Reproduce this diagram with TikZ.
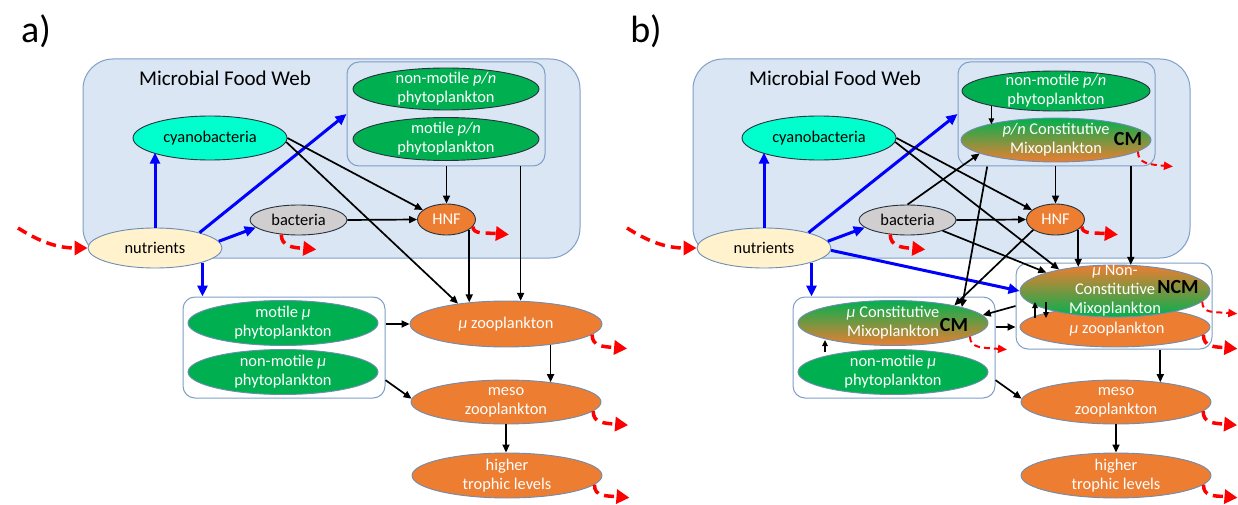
\documentclass[tikz,border=0pt]{standalone}
\usepackage{fontspec}
\setmainfont{Carlito}
\usetikzlibrary{shapes.geometric,arrows.meta,calc}
\definecolor{boxfill}{HTML}{DAE6F3}
\definecolor{boxdraw}{HTML}{7F9FC8}
\definecolor{grn}{HTML}{00B050}
\definecolor{org}{HTML}{ED7D31}
\definecolor{cyn}{HTML}{00FFCC}
\definecolor{nut}{HTML}{FFF2CC}
\definecolor{bac}{HTML}{D0CECE}
\definecolor{ellb}{HTML}{26323F}
\definecolor{ellbl}{HTML}{6F8DB0}
\definecolor{pblue}{HTML}{0000FF}
\definecolor{pred}{HTML}{FF0000}
\newcommand\EF{\fontsize{16.4}{19}\selectfont}
\newcommand\EN[8]{%
  \node[ell,#2,minimum width=#6pt,minimum height=#7pt] (#1) at (#4,#5) {};
  \node[etxt,text=#3] (#1-t) at (#1.center) {#8};}
\newcommand\hookarrow[5]{%
  \coordinate (#1) at ($(#2)+(#3)$);
  \draw[#4] (#2) .. controls +(0,#5) and +(-24,-2) .. (#1);}
\begin{document}
\begin{tikzpicture}[x=1pt,y=-1pt,
  bigbox/.style={draw=boxdraw,fill=boxfill,line width=1pt,rounded corners=30pt,inner sep=0pt},
  inbox/.style={draw=boxdraw,line width=1pt,rounded corners=12pt,inner sep=0pt},
  ell/.style={ellipse,draw=ellb,line width=0.9pt,inner sep=0pt},
  gfill/.style={fill=grn},
  ofill/.style={fill=org,draw=ellbl},
  cfill/.style={fill=cyn},
  nfill/.style={fill=nut,draw=ellbl},
  bfill/.style={fill=bac},
  gosh/.style={top color=grn,bottom color=org,draw=ellbl},
  ogsh/.style={top color=org,bottom color=grn,draw=ellbl},
  etxt/.style={align=center,font=\EF,inner sep=0pt},
  ttl/.style={font=\fontsize{21}{24}\selectfont,inner sep=0pt},
  plab/.style={font=\fontsize{38}{42}\selectfont,inner sep=0pt},
  cmlab/.style={font=\fontsize{20}{24}\selectfont\bfseries,inner sep=0pt,text=black},
  arrK/.style={-{Triangle[length=8pt,width=7pt]},line width=1.7pt,black},
  arrKs/.style={-{Triangle[length=6pt,width=5.5pt]},line width=1.4pt,black},
  arrB/.style={-{Triangle[length=11pt,width=10pt]},line width=3pt,pblue},
  arrR/.style={-{Triangle[length=13pt,width=14pt]},line width=3.5pt,pred,dash pattern=on 10pt off 6pt},
  arrRt/.style={-{Triangle[length=9pt,width=8pt]},line width=2pt,pred,dash pattern=on 6pt off 4pt}
]
\useasboundingbox (0,0) rectangle (1238,505);

%%%%%%%%%%%%%%%% panel a
\node[plab] (labA) at (36,31) {a)};
\node[bigbox,minimum width=497pt,minimum height=199pt] (mfwA) at (331.5,158.5) {};
\node[ttl] (ttlA) at (225,78) {Microbial Food Web};
\node[inbox,fill=boxfill,minimum width=198pt,minimum height=104pt] (pnboxA) at (446,114) {};
\node[inbox,fill=white,minimum width=202pt,minimum height=101pt] (phyboxA) at (284,347.5) {};

\EN{nmpnA}{gfill}{white}{446}{89}{186}{42}{non-motile \textit{p/n}\\phytoplankton}
\EN{mpnA}{gfill}{white}{446}{139}{186}{43}{motile \textit{p/n}\\phytoplankton}
\EN{cyanoA}{cfill}{black}{210}{138}{154}{44}{cyanobacteria}
\EN{nutA}{nfill}{black}{155}{248}{134}{40}{nutrients}
\EN{bacA}{bfill}{black}{298.5}{220}{97}{30}{bacteria}
\EN{hnfA}{ofill,draw=ellb}{white}{446.5}{219.5}{58}{31}{HNF}
\EN{zooA}{ofill}{white}{506}{324}{192}{46}{\textit{μ} zooplankton}
\EN{mmuA}{gfill,draw=ellbl}{white}{283}{323}{190}{45}{motile \textit{μ}\\phytoplankton}
\EN{nmmuA}{gfill,draw=ellbl}{white}{283}{372}{190}{45}{non-motile \textit{μ}\\phytoplankton}
\EN{mesoA}{ofill}{white}{506}{402}{190}{44}{meso\\zooplankton}
\EN{highA}{ofill}{white}{507}{475.5}{190}{45}{higher\\trophic levels}

% blue
\draw[arrB] (nutA.north) -- (nutA.north |- cyanoA.194);
\draw[arrB] (nutA.19) -- (pnboxA.west);
\draw[arrB] (nutA.6) -- (bacA.190);
\draw[arrB] (nutA.343) -- (nutA.343 |- phyboxA.north);
% black
\draw[arrK] (cyanoA.east) -- (hnfA.158);
\draw[arrK] (cyanoA.-3) -- (zooA.157);
\draw[arrK] (bacA.east) -- (hnfA.west);
\draw[arrK] (pnboxA.south -| hnfA.north) -- (hnfA.north);
\draw[arrK] (hnfA.336) -- (hnfA.336 |- zooA.150);
\coordinate (pnA-r) at ($(pnboxA.south)!0.75!(pnboxA.south east)$);
\draw[arrK] (pnA-r) -- (pnA-r |- zooA.58);
\draw[arrK] (zooA.west -| phyboxA.east) -- (zooA.west);
\coordinate (phA-r) at ($(phyboxA.south east)!0.18!(phyboxA.north east)$);
\draw[arrK] (phA-r) -- (mesoA.178);
\draw[arrK] (zooA.335) -- (zooA.335 |- mesoA.24);
\draw[arrK] (mesoA.south) -- (mesoA.south |- highA.north);
% red
\coordinate (inA) at (18,228);
\draw[arrR] (inA) .. controls +(22,14) and +(-30,0) .. (nutA.west);
\hookarrow{bacA-o}{bacA.220}{35,15}{arrR}{12}
\hookarrow{hnfA-o}{hnfA.345}{36,8}{arrR}{8}
\hookarrow{zooA-o}{zooA.353}{35,14}{arrR}{12}
\hookarrow{mesoA-o}{mesoA.354}{35,14}{arrR}{12}
\hookarrow{highA-o}{highA.354}{35,13}{arrR}{12}

%%%%%%%%%%%%%%%% panel b
\node[plab] (labB) at (646,31) {b)};
\node[bigbox,minimum width=497pt,minimum height=199pt] (mfwB) at (941.5,158.5) {};
\node[ttl] (ttlB) at (835,78) {Microbial Food Web};
\node[inbox,fill=boxfill,minimum width=197pt,minimum height=104pt] (pnboxB) at (1056.5,114) {};
\node[inbox,fill=white,minimum width=202pt,minimum height=101pt] (lowboxB) at (894,347.5) {};
\node[inbox,fill=white,minimum width=196pt,minimum height=86pt] (zooboxB) at (1114,306) {};

\EN{nmpnB}{gfill}{white}{1056}{91}{188}{40}{non-motile \textit{p/n}\\phytoplankton}
\EN{pncmB}{gosh}{white}{1056}{140}{190}{44}{\textit{p/n} Constitutive\\Mixoplankton}
\node[cmlab] (cmB1) at (1128,139) {CM};
\EN{cyanoB}{cfill}{black}{819}{138}{154}{44}{cyanobacteria}
\EN{nutB}{nfill}{black}{764}{248}{134}{40}{nutrients}
\EN{bacB}{bfill}{black}{907.5}{220}{97}{30}{bacteria}
\EN{hnfB}{ofill,draw=ellb}{white}{1055.5}{219.5}{58}{31}{HNF}
\node[ell,ofill,minimum width=190pt,minimum height=40pt] (zooB) at (1115,327) {};
\EN{ncmB}{ogsh}{white}{1115}{291}{190}{52}{\textit{μ} Non-\\Constitutive\\Mixoplankton}
\node[etxt,text=white] (zooB-t) at (1117,329) {\textit{μ} zooplankton};
\node[cmlab] (ncmlab) at (1178,287) {NCM};
\EN{mucmB}{gosh}{white}{893}{323}{190}{45}{\textit{μ} Constitutive\\Mixoplankton}
\node[cmlab] (cmB2) at (954,325) {CM};
\EN{nmmuB}{gfill,draw=ellbl}{white}{893}{372}{190}{45}{non-motile \textit{μ}\\phytoplankton}
\EN{mesoB}{ofill}{white}{1116}{402}{190}{44}{meso\\zooplankton}
\EN{highB}{ofill}{white}{1116}{475.5}{190}{45}{higher\\trophic levels}

% blue
\draw[arrB] (nutB.north) -- (nutB.north |- cyanoB.194);
\draw[arrB] (nutB.19) -- (pnboxB.west);
\draw[arrB] (nutB.6) -- (bacB.190);
\draw[arrB] (nutB.343) -- (nutB.343 |- lowboxB.north);
\draw[arrB] (nutB.-2) -- (ncmB.west);
% black
\draw[arrK] (cyanoB.east) -- (hnfB.158);
\draw[arrK] (cyanoB.-3) -- (ncmB.159);
\draw[arrK] (bacB.343) -- (ncmB.165);
\draw[arrK] (bacB.north) -- (pncmB.190);
\draw[arrK] (bacB.east) -- (hnfB.west);
\draw[arrK] (pnboxB.south -| hnfB.north) -- (hnfB.north);
\draw[arrK] (hnfB.336) -- (hnfB.336 |- ncmB.148);
\coordinate (pnB-r) at ($(pnboxB.south)!0.75!(pnboxB.south east)$);
\draw[arrK] (pnB-r) -- (pnB-r |- ncmB.60);
\coordinate (pnB-l) at ($(pnboxB.south west)!0.15!(pnboxB.south east)$);
\draw[arrK] (pnB-l) -- (mucmB.13);
\draw[arrK] (hnfB.205) -- (mucmB.16);
\draw[arrK] (zooboxB.west) -- (mucmB.5);
\draw[arrK] (zooB.west -| lowboxB.east) -- (zooB.west -| zooboxB.west);
\coordinate (lbB-r) at ($(lowboxB.south east)!0.18!(lowboxB.north east)$);
\draw[arrK] (lbB-r) -- (mesoB.178);
\coordinate (zbB-b) at ($(zooboxB.south)!0.47!(zooboxB.south east)$);
\draw[arrK] (zbB-b) -- (zbB-b |- mesoB.24);
\draw[arrK] (mesoB.south) -- (mesoB.south |- highB.north);
\draw[arrKs] (nmpnB.193) -- (nmpnB.193 |- pncmB.167);
\draw[arrKs] ($(nmmuB.center)+(-68,-20)$) -- ($(mucmB.center)+(-68,17)$);
\draw[arrKs] ($(zooB.center)+(-80,-9)$) -- ($(zooB.center)+(-80,-25)$);
\draw[arrKs] ($(ncmB.center)+(-69,11)$) -- ($(ncmB.center)+(-69,27)$);
% red
\coordinate (inB) at (627,228);
\draw[arrR] (inB) .. controls +(22,14) and +(-30,0) .. (nutB.west);
\hookarrow{bacB-o}{bacB.220}{35,15}{arrR}{12}
\hookarrow{hnfB-o}{hnfB.345}{36,8}{arrR}{8}
\hookarrow{zooB-o}{zooB.355}{34,14}{arrR}{12}
\hookarrow{mesoB-o}{mesoB.354}{34,14}{arrR}{12}
\hookarrow{highB-o}{highB.354}{34,13}{arrR}{12}
\hookarrow{pncmB-o}{pncmB.352}{35,15}{arrRt}{12}
\hookarrow{ncmB-o}{ncmB.353}{35,12}{arrRt}{12}
\hookarrow{mucmB-o}{mucmB.350}{37,13}{arrRt}{12}
\end{tikzpicture}
\end{document}
